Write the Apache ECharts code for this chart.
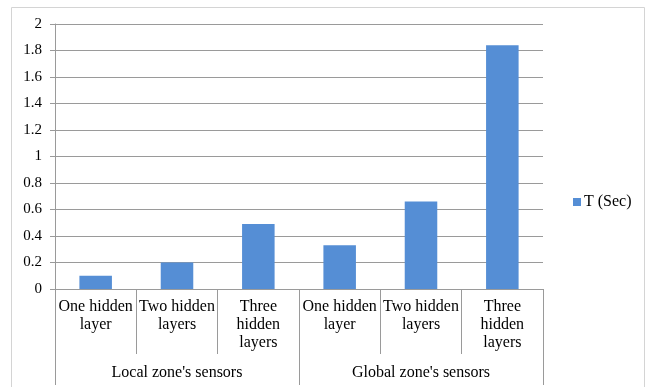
<!DOCTYPE html>
<html>
<head>
<meta charset="utf-8">
<script src="https://cdn.jsdelivr.net/npm/echarts@6/dist/echarts.min.js"></script>
<style>
  html, body { margin: 0; padding: 0; background: #ffffff; }
  #chart { width: 648px; height: 387px; }
</style>
</head>
<body>
<div id="chart"></div>
<script>
// Training time per network configuration, grouped by sensor zone
const seriesName = 'T (Sec)';
const categories = [
  'One hidden\nlayer', 'Two hidden\nlayers', 'Three\nhidden\nlayers',
  'One hidden\nlayer', 'Two hidden\nlayers', 'Three\nhidden\nlayers'
];
const groups = ["Local zone's sensors", "Global zone's sensors"];
const timeValues = [0.10, 0.20, 0.49, 0.33, 0.66, 1.84];
const yTicks = { min: 0, max: 2, interval: 0.2 };

const FONT = 'Liberation Serif';
const AXIS_GRAY = '#9a9a9a';
const TEXT = '#000000';
const BAR = '#558ed5';

const chart = echarts.init(document.getElementById('chart'), null, { renderer: 'canvas' });

chart.setOption({
  animation: false,
  backgroundColor: '#ffffff',
  textStyle: { fontFamily: FONT },
  graphic: [{
    type: 'rect',
    shape: { x: 11.5, y: 7.5, width: 633, height: 390 },
    style: { fill: 'none', stroke: '#d4d4d4', lineWidth: 1 },
    silent: true,
    z: -1
  }],
  grid: { left: 55, right: 105, top: 24, bottom: 98, containLabel: false },
  legend: {
    orient: 'vertical',
    left: 568,
    top: 189,
    itemWidth: 8,
    itemHeight: 8,
    icon: 'rect',
    itemGap: 4,
    textStyle: { fontFamily: FONT, fontSize: 16, color: TEXT, padding: [0, 0, 0, -2] },
    data: [seriesName]
  },
  xAxis: [
    {
      // inner level: network depth per bar
      type: 'category',
      data: categories,
      position: 'bottom',
      axisLine: { lineStyle: { color: AXIS_GRAY, width: 1 } },
      axisTick: { show: true, alignWithLabel: false, length: 65, lineStyle: { color: AXIS_GRAY } },
      axisLabel: {
        interval: 0,
        margin: 9,
        fontFamily: FONT,
        fontSize: 16,
        lineHeight: 18,
        color: TEXT,
        align: 'center'
      },
      splitLine: { show: false }
    },
    {
      // outer level: sensor zone groups
      type: 'category',
      data: groups,
      position: 'bottom',
      offset: 0,
      axisLine: { lineStyle: { color: AXIS_GRAY, width: 1 } },
      axisTick: { show: true, alignWithLabel: false, length: 96, lineStyle: { color: AXIS_GRAY } },
      axisLabel: {
        interval: 0,
        margin: 75,
        fontFamily: FONT,
        fontSize: 16,
        lineHeight: 18,
        color: TEXT
      },
      splitLine: { show: false }
    }
  ],
  yAxis: {
    type: 'value',
    min: yTicks.min,
    max: yTicks.max,
    interval: yTicks.interval,
    axisLine: { show: true, lineStyle: { color: AXIS_GRAY, width: 1 } },
    axisTick: { show: true, length: 5, lineStyle: { color: AXIS_GRAY } },
    axisLabel: {
      margin: 13,
      fontFamily: FONT,
      fontSize: 15,
      color: TEXT,
      formatter: v => String(Math.round(v * 10) / 10)
    },
    splitLine: { show: true, lineStyle: { color: AXIS_GRAY, width: 1 } }
  },
  series: [{
    name: seriesName,
    type: 'bar',
    xAxisIndex: 0,
    data: timeValues,
    barWidth: '40%',
    itemStyle: { color: BAR }
  }]
});
</script>
</body>
</html>
